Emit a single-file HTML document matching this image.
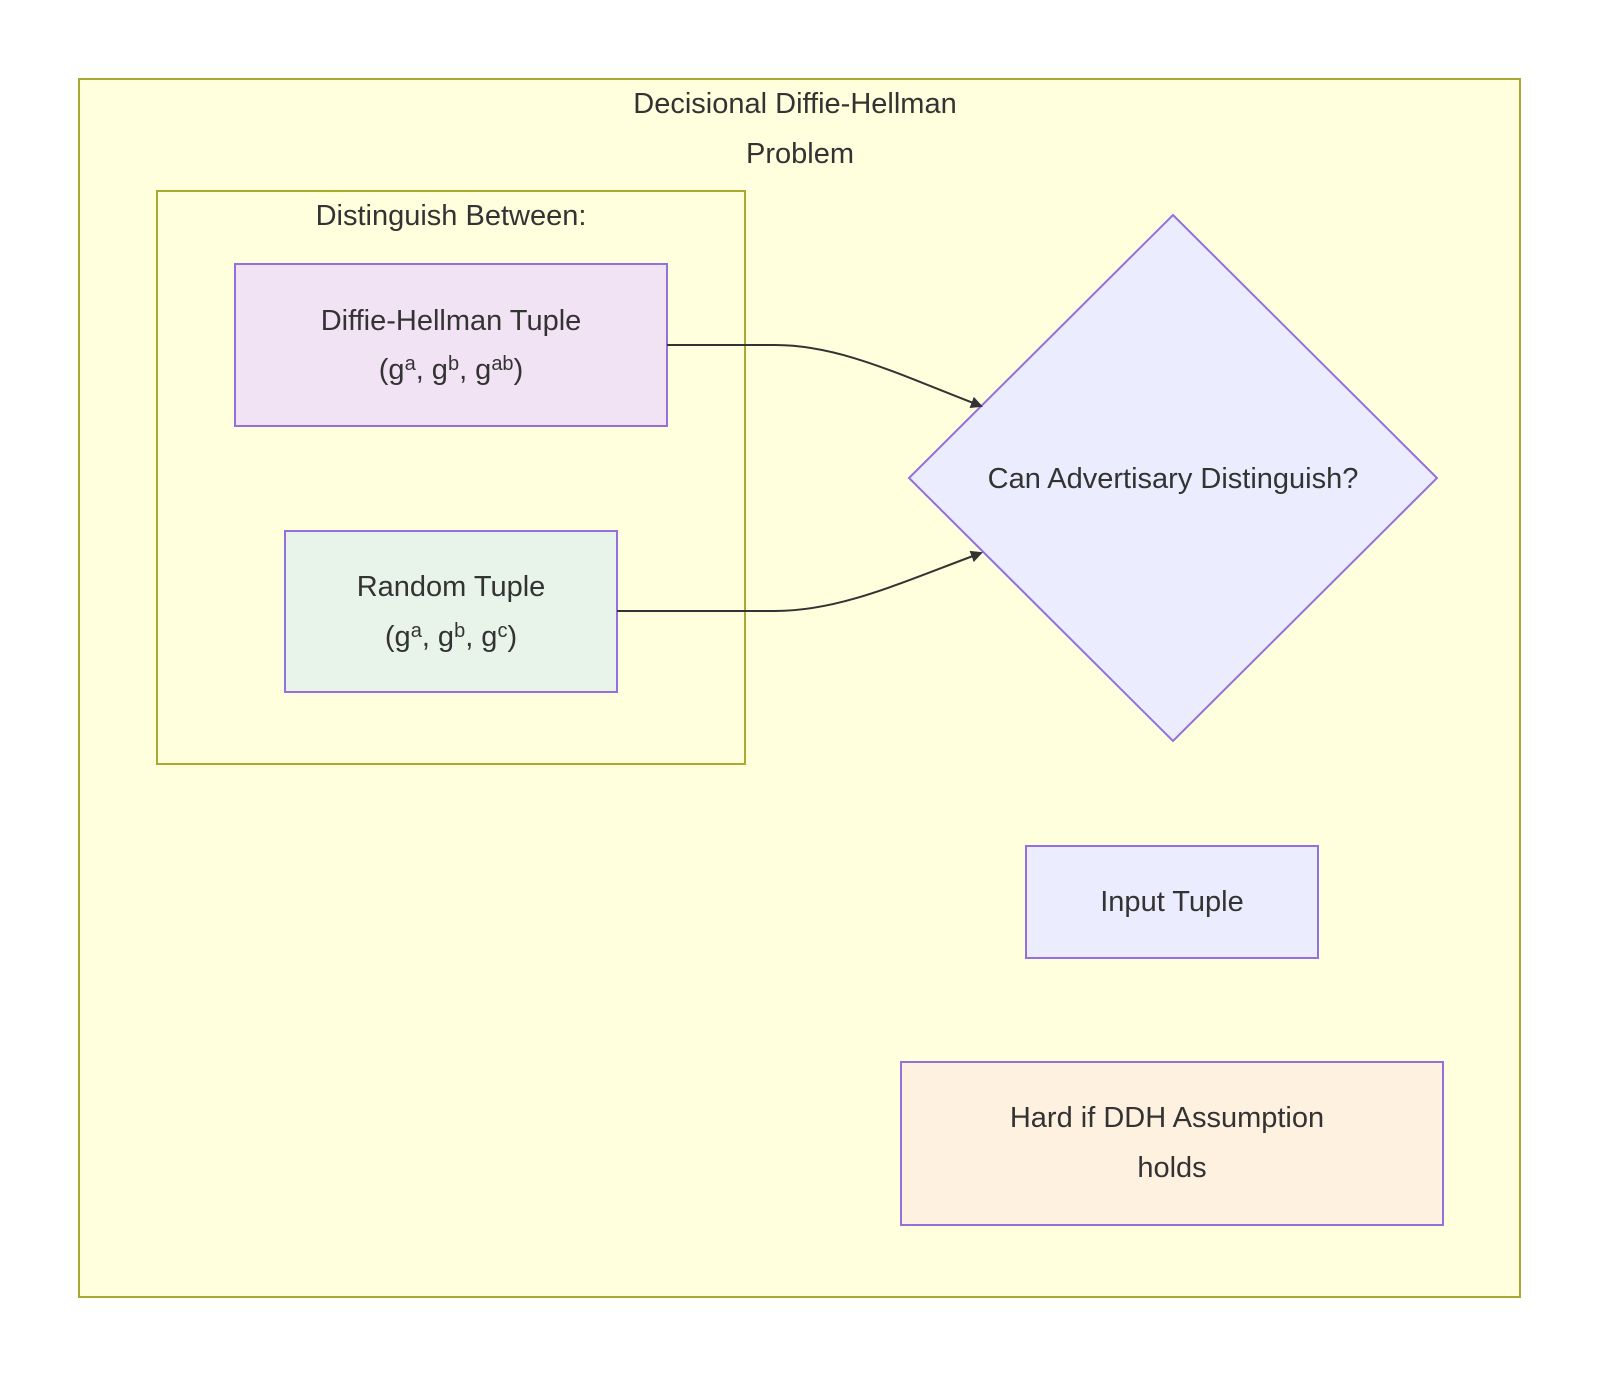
<!DOCTYPE html>
<html><head><meta charset="utf-8"><style>
html,body{margin:0;padding:0;background:#fff;}
svg text{font-family:"Liberation Sans",sans-serif;fill:#333;font-size:29px;text-anchor:middle;}
</style></head><body>
<svg width="1600" height="1377" viewBox="0 0 1600 1377" xmlns="http://www.w3.org/2000/svg">
<defs><marker id="ah" markerWidth="12" markerHeight="12" refX="10" refY="6" orient="auto" markerUnits="userSpaceOnUse"><path d="M0,0 L12,6 L0,12 z" fill="#333"/></marker></defs>
<rect x="79" y="79" width="1441" height="1218" fill="#ffffde" stroke="#aaaa33" stroke-width="2"/>
<text x="795" y="113">Decisional Diffie-Hellman</text>
<text x="800" y="163">Problem</text>
<rect x="157" y="191" width="588" height="573" fill="#ffffde" stroke="#aaaa33" stroke-width="2"/>
<text x="451" y="225">Distinguish Between:</text>
<rect x="235" y="264" width="432" height="162" fill="#f1e2f4" stroke="#9370db" stroke-width="2"/>
<text x="451" y="330">Diffie-Hellman Tuple</text>
<text x="451" y="379">(g<tspan dy="-9" font-size="20">a</tspan><tspan dy="9">, g</tspan><tspan dy="-9" font-size="20">b</tspan><tspan dy="9">, g</tspan><tspan dy="-9" font-size="20">ab</tspan><tspan dy="9">)</tspan></text>
<rect x="285" y="531" width="332" height="161" fill="#e8f3e9" stroke="#9370db" stroke-width="2"/>
<text x="451" y="596">Random Tuple</text>
<text x="451" y="646">(g<tspan dy="-9" font-size="20">a</tspan><tspan dy="9">, g</tspan><tspan dy="-9" font-size="20">b</tspan><tspan dy="9">, g</tspan><tspan dy="-9" font-size="20">c</tspan><tspan dy="9">)</tspan></text>
<polygon points="1173,215 1437,478 1173,741 909,478" fill="#ececff" stroke="#9370db" stroke-width="2"/>
<text x="1173" y="488">Can Advertisary Distinguish?</text>
<rect x="1026" y="846" width="292" height="112" fill="#ececff" stroke="#9370db" stroke-width="2"/>
<text x="1172" y="911">Input Tuple</text>
<rect x="901" y="1062" width="542" height="163" fill="#fff1e0" stroke="#9370db" stroke-width="2"/>
<text x="1167" y="1127">Hard if DDH Assumption</text>
<text x="1172" y="1177">holds</text>
<path d="M667,345 L775,345 C840,345 900,375 981,406" fill="none" stroke="#333" stroke-width="2" marker-end="url(#ah)"/>
<path d="M617,611 L775,611 C840,611 900,583 981,553" fill="none" stroke="#333" stroke-width="2" marker-end="url(#ah)"/>
</svg>
</body></html>
